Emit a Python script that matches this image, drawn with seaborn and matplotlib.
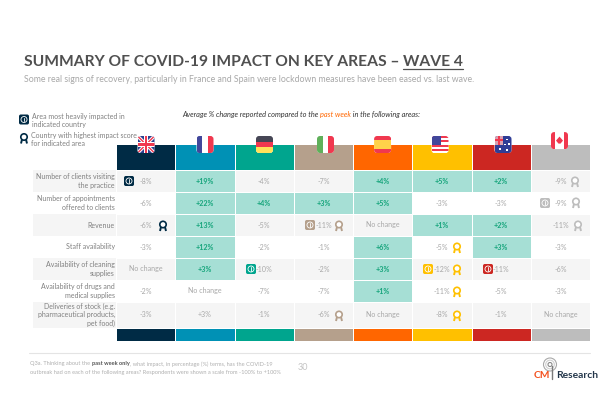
import numpy as np
import matplotlib
matplotlib.use("Agg")
import matplotlib.pyplot as plt
from matplotlib.colors import ListedColormap
from matplotlib.patches import FancyBboxPatch, Rectangle, Circle, Polygon
import seaborn as sns

sns.set_style("white")
plt.rcParams['font.family'] = ['Lato', 'Open Sans', 'DejaVu Sans']

countries = ["UK", "France", "Germany", "Italy", "Spain", "USA", "Australia", "Canada"]
header_colors = ["#002b45", "#0091b5", "#00a58e", "#b5a08c", "#ff6600", "#ffc000", "#cc2722", "#bdbdbd"]
areas = ["Number of clients visiting\nthe practice", "Number of appointments\noffered to clients", "Revenue",
         "Staff availability", "Availability of cleaning\nsupplies", "Availability of drugs and\nmedical supplies",
         "Deliveries of stock (e.g.\npharmaceutical products,\npet food)"]
n = np.nan
values = np.array([
    [-8, 19, -4, -7, 4, 5, 2, -9],
    [-6, 22, 4, 3, 5, -3, -3, -9],
    [-6, 13, -5, -11, n, 1, 2, -11],
    [-3, 12, -2, -1, 6, -5, 3, -3],
    [n, 3, -10, -2, 3, -12, -11, -6],
    [-2, n, -7, -7, 1, -11, -5, -3],
    [-3, 3, -1, -6, n, -8, -1, n],
])
highlight_rows = [0, 1, 2, 3, 4, 5]
impact_icons = [(129, 181, 0), (545, 203, 7), (310, 225, 3), (251, 269, 2), (428, 269, 5), (488, 269, 6)]
rosettes = [(163, 225, 0), (339, 225, 3), (339, 315, 3), (575, 181, 7), (576, 202, 7), (578, 225, 7),
            (457, 247, 5), (457, 269, 5), (457, 291, 5), (457, 315, 5)]
flag_centers = [146, 205, 264.5, 325.5, 382.6, 440, 503, 559.5]

W, H = 600, 400
fig = plt.figure(figsize=(6, 4), dpi=100, facecolor="white")


def px_axes(x0, y0, x1, y1):
    return fig.add_axes([x0 / W, 1 - y1 / H, (x1 - x0) / W, (y1 - y0) / H])


labels = np.array([["No change" if np.isnan(v) else f"{int(v):+d}%" for v in row] for row in values])
codes = np.zeros(values.shape)
codes[::2] = 1
for r in highlight_rows:
    codes[r][np.nan_to_num(values[r]) > 0] = 2
cmap = ListedColormap(["#ffffff", "#f5f5f5", "#a6dfd5"])


def table(x0, y0, x1, y1, rows):
    ax = px_axes(x0, y0, x1, y1)
    sns.heatmap(codes[rows], ax=ax, cmap=cmap, vmin=0, vmax=2, cbar=False, annot=labels[rows], fmt="",
                linewidths=0.6, linecolor="white", xticklabels=False, yticklabels=False,
                annot_kws={"fontsize": 5.1})
    for t, c in zip(ax.texts, codes[rows].ravel()):
        if c == 2:
            t.set_color("#17a57c")
            t.set_fontweight("bold")
        else:
            t.set_color("#a8a8a8")


table(116, 170, 590, 302, list(range(6)))
table(116, 302, 590, 327.5, [6])

for y0, y1 in [(144, 169.5), (327.5, 341)]:
    ax = px_axes(116, y0, 590, y1)
    sns.heatmap(np.arange(8)[None, :], ax=ax, cmap=ListedColormap(header_colors), cbar=False,
                linewidths=0.5, linecolor="white", xticklabels=False, yticklabels=False)

ov = fig.add_axes([0, 0, 1, 1], zorder=10)
ov.set_xlim(0, W)
ov.set_ylim(H, 0)
ov.axis("off")
ov.patch.set_alpha(0)

# row labels
edges = [170, 192, 214, 236, 258, 280, 302, 327.5]
for i, a in enumerate(areas):
    if i % 2 == 0:
        ov.add_patch(Rectangle((33, edges[i]), 83, edges[i + 1] - edges[i], fc="#f5f5f5", ec="none", zorder=0))
    ov.text(115, (edges[i] + edges[i + 1]) / 2, a, ha="right", va="center", fontsize=5.05, color="#808080",
            linespacing=1.2)


def chain(x, y, parts, **kw):
    r = fig.canvas.get_renderer()
    for s, extra in parts:
        t = ov.text(x, y, s, va="center", **{**kw, **extra})
        bb = t.get_window_extent(r)
        x = bb.x1 * W / fig.bbox.width
    return x


xw = chain(24, 61.5, [("SUMMARY OF COVID-19 IMPACT ON KEY AREAS \u2013", {})], fontsize=11.25, fontweight="bold", color="#505050")
x2 = chain(xw + 3.5, 61.5, [("WAVE 4", {})], fontsize=11.25, fontweight="bold", color="#505050")
ov.plot([xw + 3.5, x2], [68.5, 68.5], color="#505050", lw=0.9)

ov.text(24, 80, "Some real signs of recovery, particularly in France and Spain were lockdown measures have been eased vs. last wave.",
        fontsize=6.33, color="#a8a8a8", va="center")

chain(182, 115, [("Average % change reported compared to the ", {"color": "#333333"}),
                 ("past week", {"color": "#ff6600"}),
                 (" in the following areas:", {"color": "#333333"})], fontsize=5.3, style="italic")

ov.text(32, 116, "Area most heavily impacted in", fontsize=5.0, color="#808080", va="center")
ov.text(32, 125, "indicated country", fontsize=5.0, color="#808080", va="center")
ov.text(31, 135.5, "Country with highest impact score", fontsize=5.0, color="#808080", va="center")
ov.text(31, 144, "for indicated area", fontsize=5.0, color="#808080", va="center")


def impact(x, y, color, s=5):
    ov.add_patch(FancyBboxPatch((x - s, y - s), 2 * s, 2 * s, boxstyle="round,pad=0,rounding_size=1.8",
                                mutation_aspect=1, fc=color, ec="none"))
    ov.add_patch(Circle((x, y), s * 0.6, fc="none", ec="white", lw=0.6))
    ov.plot([x, x], [y - 1.7, y + 1.7], color="white", lw=0.6)


def rosette(x, y, color):
    ov.plot([x - 2, x - 3], [y + 2, y + 6], color=color, lw=1.4, solid_capstyle="butt")
    ov.plot([x + 2, x + 3], [y + 2, y + 6], color=color, lw=1.4, solid_capstyle="butt")
    ov.add_patch(Circle((x, y - 0.5), 3.2, fc="white", ec=color, lw=1.2))


for x, y, c in impact_icons:
    impact(x, y, header_colors[c])
for x, y, c in rosettes:
    rosette(x, y, header_colors[c])
impact(24, 119.5, "#002b45")
rosette(24, 137.5, "#002b45")


def flag(cx, cy, draw, s=8.5):
    clip = FancyBboxPatch((cx - s, cy - s), 2 * s, 2 * s, boxstyle="round,pad=0,rounding_size=3", fc="white", ec="none",
                          transform=ov.transData)
    ov.add_patch(clip)
    for art in draw(cx - s, cy - s, 2 * s):
        ov.add_patch(art)
        art.set_clip_path(clip)


def vstripes(cols):
    return lambda x, y, d: [Rectangle((x + i * d / len(cols), y), d / len(cols), d, fc=c, ec="none") for i, c in enumerate(cols)]


def hstripes(cols, weights=None):
    w = weights or [1] * len(cols)
    def f(x, y, d):
        out, t = [], 0
        for c, k in zip(cols, w):
            out.append(Rectangle((x, y + t * d / sum(w)), d, k * d / sum(w), fc=c, ec="none"))
            t += k
        return out
    return f


def uk(x, y, d):
    b = 1.2
    out = [Rectangle((x, y), d, d, fc="#2a3f8f", ec="none")]
    for wd, c in [(2.4, "white"), (1.0, "#f0384f")]:
        out.append(Polygon([(x - wd, y), (x, y - wd), (x + d + wd, y + d), (x + d, y + d + wd)], fc=c, ec="none"))
        out.append(Polygon([(x - wd, y + d), (x, y + d + wd), (x + d + wd, y), (x + d, y - wd)], fc=c, ec="none"))
    out.append(Rectangle((x + d / 2 - 2.2, y), 4.4, d, fc="white", ec="none"))
    out.append(Rectangle((x, y + d / 2 - 2.2), d, 4.4, fc="white", ec="none"))
    out.append(Rectangle((x + d / 2 - b, y), 2 * b, d, fc="#f0384f", ec="none"))
    out.append(Rectangle((x, y + d / 2 - b), d, 2 * b, fc="#f0384f", ec="none"))
    return out


def us(x, y, d):
    out = hstripes(["#f0384f", "white"] * 4)(x, y, d)
    out.append(Rectangle((x, y), d * 0.55, d * 0.5, fc="#41479b", ec="none"))
    return out


def au(x, y, d):
    out = [Rectangle((x, y), d, d, fc="#2f3d96", ec="none"),
           Rectangle((x, y), d * 0.5, d * 0.5, fc="#d9a0b0", ec="none"),
           Rectangle((x + d * 0.2, y), d * 0.1, d * 0.5, fc="#f0384f", ec="none"),
           Rectangle((x, y + d * 0.2), d * 0.5, d * 0.1, fc="#f0384f", ec="none")]
    for dx, dy in [(0.3, 0.75), (0.72, 0.2), (0.85, 0.45), (0.6, 0.5), (0.72, 0.8)]:
        out.append(Rectangle((x + d * dx - 0.9, y + d * dy - 0.9), 1.8, 1.8, fc="white", ec="none"))
    return out


def ca(x, y, d):
    out = vstripes(["#f0384f", "white", "white", "#f0384f"])(x, y, d)
    c, m = x + d / 2, y + d / 2
    out.append(Polygon([(c, m - 4), (c + 3.5, m), (c + 1, m + 3), (c - 1, m + 3), (c - 3.5, m)], fc="#f0384f", ec="none"))
    return out


flags = [uk, vstripes(["#41479b", "white", "#f0384f"]), hstripes(["#464655", "#f0384f", "#ffe15a"]),
         vstripes(["#5fb05a", "white", "#f0384f"]), hstripes(["#f0384f", "#ffd24a", "#f0384f"], [1, 2, 1]), us, au, ca]
for i, (cx, fn) in enumerate(zip(flag_centers, flags)):
    flag(cx, 140.6 if i == 7 else 144.5, fn)

# footer
ov.plot([29, 590], [353, 353], color="#e4e4e4", lw=0.8)
chain(30, 364, [("Q3a. Thinking about the ", {"color": "#b0b0b0"}), ("past week only", {"color": "#555555", "fontweight": "bold"}),
                (", what impact, in percentage (%) terms, has the COVID-19", {"color": "#b0b0b0"})], fontsize=4.1)
ov.text(30, 372.5, "outbreak had on each of the following areas? Respondents were shown a scale from -100% to +100%",
        fontsize=4.07, color="#b0b0b0", va="center")
ov.text(303, 367, "30", fontsize=6.5, color="#c4c4c4", va="center", ha="center")

# logo
ov.plot([552, 552], [366, 379], color="#7a7a7a", lw=1)
for r, c in [(6.5, "#a9a9a9"), (4.3, "#d0d0d0"), (2, "#8a8a8a")]:
    ov.add_patch(Circle((550, 364.5), r, fc="white", ec=c, lw=0.8))
ov.text(534, 375.5, "CM", fontsize=7.4, fontweight="bold", color="#f4511e", va="center")
ov.text(598, 375.5, "Research", fontsize=7.4, fontweight="bold", color="#23364a", va="center", ha="right")

fig.savefig("out.png", dpi=100)
